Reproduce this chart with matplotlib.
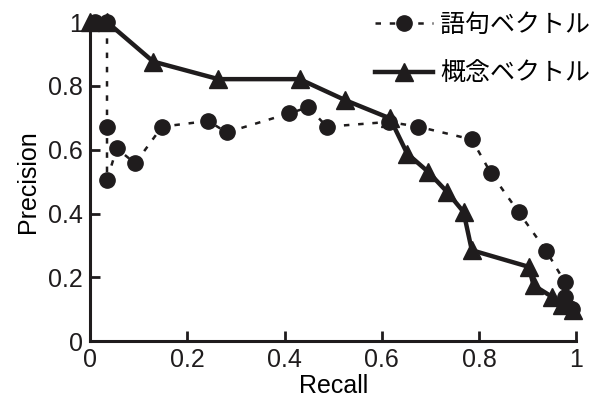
import matplotlib
matplotlib.use("Agg")
import matplotlib.pyplot as plt

plt.rcParams['font.family'] = ['Liberation Sans', 'Noto Sans CJK JP', 'DejaVu Sans']

# 語句ベクトル (dashed, circles)
word_recall = [0.01, 0.035, 0.035, 0.035, 0.055, 0.093, 0.148, 0.243, 0.281, 0.41, 0.449,
               0.487, 0.614, 0.675, 0.785, 0.824, 0.881, 0.938, 0.976, 0.976, 0.99]
word_prec = [1.0, 1.0, 0.67, 0.505, 0.604, 0.557, 0.672, 0.69, 0.654, 0.714, 0.733,
             0.672, 0.687, 0.672, 0.632, 0.527, 0.405, 0.283, 0.186, 0.14, 0.1]

# 概念ベクトル (solid, triangles)
concept_recall = [0.0, 0.035, 0.13, 0.264, 0.431, 0.525, 0.617, 0.652, 0.695, 0.734, 0.768,
                  0.785, 0.902, 0.912, 0.95, 0.97, 0.994]
concept_prec = [1.0, 1.0, 0.876, 0.821, 0.821, 0.755, 0.698, 0.588, 0.531, 0.468, 0.405,
                0.285, 0.233, 0.175, 0.139, 0.113, 0.097]

ticks = [0, 0.2, 0.4, 0.6, 0.8, 1]
tick_labels = ['0', '0.2', '0.4', '0.6', '0.8', '1']

fig = plt.figure(figsize=(6.08, 4.0), dpi=100)
ax = fig.add_axes([0.148, 0.147, 0.8, 0.798])

ax.plot(word_recall, word_prec, color='#1f1c1d', lw=1.8, ls=(0, (2.2, 3.5)),
        marker='o', ms=11, clip_on=False, label='語句ベクトル')
ax.plot(concept_recall, concept_prec, color='#1f1c1d', lw=3.2,
        marker='^', ms=13, clip_on=False, label='概念ベクトル')

ax.set_xlim(0, 1)
ax.set_ylim(0, 1)
ax.set_xticks(ticks)
ax.set_xticklabels(tick_labels)
ax.set_yticks(ticks)
ax.set_yticklabels(tick_labels)
ax.tick_params(direction='in', length=7, width=2, labelsize=18, colors='#1f1c1d', pad=5)
ax.set_xlabel('Recall', fontsize=18, labelpad=1)
ax.set_ylabel('Precision', fontsize=18, labelpad=6)

for s in ['top', 'right']:
    ax.spines[s].set_visible(False)
for s in ['left', 'bottom']:
    ax.spines[s].set_linewidth(2.2)
    ax.spines[s].set_color('#1f1c1d')

ax.legend(loc='upper right', bbox_to_anchor=(1.075, 1.1), frameon=False, fontsize=18,
          handlelength=2.3, labelspacing=1.0, handletextpad=0.3)

fig.savefig('out.png', dpi=100)
